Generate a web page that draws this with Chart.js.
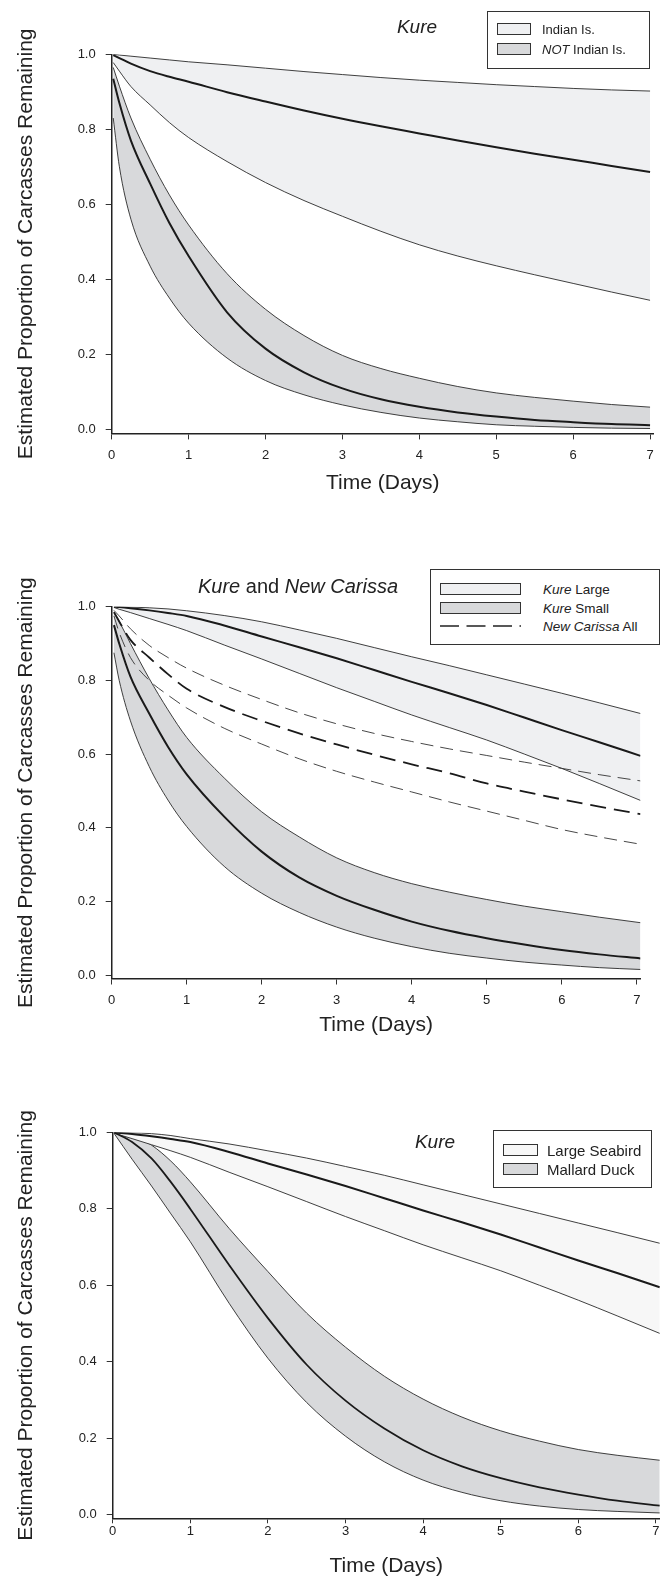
<!DOCTYPE html>
<html lang="en">
<head>
<meta charset="UTF-8">
<title>Estimated Proportion of Carcasses Remaining</title>
<script src="https://cdn.jsdelivr.net/npm/chart.js"></script>
<style>
  body { margin: 0; background: #fff; font-family: "Liberation Sans", Arial, sans-serif; color: #222; }
  #page { position: relative; width: 665px; height: 1577px; overflow: hidden; }
  canvas { position: absolute; left: 0; }
  .ttl { position: absolute; white-space: nowrap; transform: translate(-50%, -50%); font-size: 19px; }
  .lgd { position: absolute; border: 1px solid #333; box-sizing: border-box; background: #fff; }
  .sw { position: absolute; box-sizing: border-box; border: 1px solid #333; }
  .lt { position: absolute; white-space: nowrap; transform: translateY(-50%); }
</style>
</head>
<body>
<div id="page">
  <canvas id="kure1" width="665" height="500" style="top:0px"></canvas>
  <canvas id="kure2" width="665" height="500" style="top:540px"></canvas>
  <canvas id="kure3" width="665" height="497" style="top:1080px"></canvas>
</div>

<script>
// shared ticks
const dayTicks = [0, 1, 2, 3, 4, 5, 6, 7];
const propTicks = [0, 0.2, 0.4, 0.6, 0.8, 1.0];

// ---- panel 1 : Kure, Indian Is. vs NOT Indian Is.
const days1 = [0.02, 0.1, 0.25, 0.5, 0.75, 1, 1.5, 2, 2.5, 3, 3.5, 4, 4.5, 5, 5.5, 6, 6.5, 7];
const indianUpper = [1.0, 0.998, 0.995, 0.99, 0.985, 0.98, 0.972, 0.963, 0.954, 0.946, 0.938, 0.931, 0.925, 0.919, 0.914, 0.909, 0.905, 0.902];
const indianMid   = [0.998, 0.99, 0.975, 0.955, 0.94, 0.927, 0.899, 0.874, 0.85, 0.828, 0.808, 0.789, 0.77, 0.752, 0.735, 0.719, 0.702, 0.686];
const indianLower = [0.978, 0.955, 0.914, 0.865, 0.818, 0.778, 0.714, 0.658, 0.61, 0.568, 0.528, 0.492, 0.462, 0.436, 0.412, 0.389, 0.366, 0.344];
const notUpper = [0.965, 0.915, 0.83, 0.72, 0.625, 0.545, 0.415, 0.32, 0.25, 0.197, 0.162, 0.136, 0.114, 0.097, 0.085, 0.075, 0.066, 0.059];
const notMid   = [0.935, 0.87, 0.77, 0.655, 0.55, 0.462, 0.312, 0.215, 0.152, 0.109, 0.08, 0.06, 0.045, 0.034, 0.025, 0.019, 0.014, 0.011];
const notLower = [0.83, 0.70, 0.56, 0.435, 0.35, 0.283, 0.19, 0.13, 0.092, 0.065, 0.045, 0.03, 0.02, 0.012, 0.008, 0.005, 0.003, 0.002];

// ---- panel 2 : Kure large / small and New Carissa
const days2 = [0.03, 0.1, 0.25, 0.5, 0.75, 1, 1.5, 2, 2.5, 3, 3.5, 4, 4.5, 5, 5.5, 6, 6.5, 7.05];
const largeUpper = [1.0, 1.0, 0.999, 0.997, 0.994, 0.989, 0.976, 0.959, 0.937, 0.914, 0.889, 0.864, 0.84, 0.815, 0.79, 0.765, 0.739, 0.71];
const largeMid   = [1.0, 0.999, 0.996, 0.99, 0.983, 0.975, 0.949, 0.919, 0.89, 0.86, 0.828, 0.796, 0.765, 0.733, 0.699, 0.665, 0.632, 0.595];
const largeLower = [0.998, 0.993, 0.984, 0.968, 0.952, 0.935, 0.896, 0.858, 0.819, 0.78, 0.743, 0.706, 0.672, 0.638, 0.6, 0.561, 0.52, 0.474];
const smallUpper = [0.985, 0.96, 0.9, 0.805, 0.72, 0.645, 0.535, 0.443, 0.375, 0.318, 0.278, 0.248, 0.225, 0.205, 0.187, 0.172, 0.157, 0.142];
const smallMid   = [0.95, 0.9, 0.81, 0.71, 0.62, 0.545, 0.43, 0.335, 0.265, 0.215, 0.177, 0.145, 0.12, 0.10, 0.083, 0.068, 0.056, 0.045];
const smallLower = [0.875, 0.80, 0.69, 0.566, 0.475, 0.403, 0.295, 0.222, 0.17, 0.13, 0.10, 0.077, 0.059, 0.046, 0.035, 0.027, 0.02, 0.015];
const carissaUpper = [0.99, 0.975, 0.94, 0.895, 0.862, 0.833, 0.787, 0.748, 0.712, 0.682, 0.656, 0.634, 0.614, 0.596, 0.578, 0.561, 0.544, 0.527];
const carissaMid   = [0.985, 0.96, 0.91, 0.862, 0.817, 0.777, 0.728, 0.69, 0.656, 0.626, 0.598, 0.572, 0.548, 0.52, 0.498, 0.477, 0.457, 0.437];
const carissaLower = [0.975, 0.93, 0.862, 0.8, 0.76, 0.725, 0.67, 0.627, 0.587, 0.553, 0.524, 0.497, 0.47, 0.445, 0.42, 0.395, 0.375, 0.355];

// ---- panel 3 : Kure, large seabird vs mallard duck
const days3 = [0.02, 0.25, 0.5, 0.75, 1, 1.5, 2, 2.5, 3, 3.5, 4, 4.5, 5, 5.5, 6, 6.5, 7.05];
const seabirdUpper = [1.0, 0.999, 0.997, 0.992, 0.984, 0.97, 0.952, 0.933, 0.911, 0.888, 0.863, 0.838, 0.813, 0.788, 0.763, 0.738, 0.71];
const seabirdMid   = [1.0, 0.996, 0.99, 0.983, 0.975, 0.949, 0.919, 0.89, 0.86, 0.828, 0.796, 0.765, 0.733, 0.699, 0.665, 0.632, 0.595];
const seabirdLower = [0.998, 0.984, 0.968, 0.952, 0.935, 0.896, 0.858, 0.819, 0.78, 0.743, 0.706, 0.672, 0.638, 0.6, 0.561, 0.52, 0.474];
const mallardUpper = [1.0, 0.993, 0.967, 0.925, 0.871, 0.749, 0.636, 0.527, 0.438, 0.362, 0.302, 0.255, 0.219, 0.192, 0.17, 0.155, 0.142];
const mallardMid   = [1.0, 0.975, 0.932, 0.87, 0.80, 0.653, 0.514, 0.392, 0.298, 0.225, 0.168, 0.126, 0.095, 0.071, 0.052, 0.036, 0.023];
const mallardLower = [0.997, 0.93, 0.86, 0.787, 0.714, 0.553, 0.409, 0.293, 0.205, 0.138, 0.09, 0.058, 0.036, 0.022, 0.013, 0.008, 0.004];

const lightFill = '#eff0f2';
const paleFill = '#f7f7f7';
const darkFill = '#d8d9db';
const fontFam = '"Liberation Sans", Arial, sans-serif';

function line(values, opts) {
    return Object.assign({ values: values, width: 0.9, color: '#2a2a2a', order: 2 }, opts || {});
}

function panelChart(canvasId, xs, sets, lay) {
    const datasets = sets.map(s => ({
        data: xs.map((x, i) => ({ x: x, y: s.values[i] })),
        borderColor: s.color,
        borderWidth: s.width,
        borderDash: s.dash || [],
        backgroundColor: s.band || 'rgba(0,0,0,0)',
        fill: s.band ? '-1' : false,
        order: s.order,
        pointRadius: 0,
        cubicInterpolationMode: 'monotone'
    }));

    return new Chart(document.getElementById(canvasId), {
        type: 'line',
        data: { datasets: datasets },
        options: {
            responsive: false,
            animation: false,
            events: [],
            layout: { padding: { top: lay.top, right: lay.right, left: 0, bottom: 0 } },
            plugins: { legend: { display: false }, tooltip: { enabled: false } },
            scales: {
                x: {
                    type: 'linear',
                    min: 0,
                    max: lay.xMax,
                    afterFit: s => { s.height = lay.xHeight; },
                    afterBuildTicks: s => { s.ticks = dayTicks.map(v => ({ value: v })); },
                    grid: { drawOnChartArea: false, tickLength: lay.tickLen, color: '#333' },
                    border: { color: '#222', width: 1.5 },
                    ticks: { padding: lay.xTickPad, maxRotation: 0, autoSkip: false, color: '#222',
                             font: { family: fontFam, size: 13 } },
                    title: { display: true, text: 'Time (Days)', color: '#222',
                             padding: { top: 0, bottom: lay.xTitlePad },
                             font: { family: fontFam, size: 21, lineHeight: 1 } }
                },
                y: {
                    min: lay.yMin,
                    max: 1,
                    afterFit: s => { s.width = lay.yWidth; },
                    afterBuildTicks: s => { s.ticks = propTicks.map(v => ({ value: v })); },
                    grid: { drawOnChartArea: false, tickLength: 6, color: '#333' },
                    border: { color: '#222', width: 1.5 },
                    ticks: { padding: 10, color: '#222', font: { family: fontFam, size: 13 },
                             callback: v => Number(v).toFixed(1) },
                    title: { display: true, text: 'Estimated Proportion of Carcasses Remaining', color: '#222',
                             padding: { top: 15.5, bottom: 0 },
                             font: { family: fontFam, size: 21, lineHeight: 1 } }
                }
            }
        }
    });
}

// html titles and legends (keeps the italics as real text)
const page = document.getElementById('page');

function addTitle(html, cx, cy, size) {
    const d = document.createElement('div');
    d.className = 'ttl';
    d.innerHTML = html;
    d.style.left = cx + 'px';
    d.style.top = cy + 'px';
    d.style.fontSize = size + 'px';
    page.appendChild(d);
}

function addLegend(box, items) {
    const b = document.createElement('div');
    b.className = 'lgd';
    Object.assign(b.style, { left: box.x + 'px', top: box.y + 'px', width: box.w + 'px', height: box.h + 'px' });
    page.appendChild(b);
    items.forEach(it => {
        if (it.dash) {
            const svg = document.createElementNS('http://www.w3.org/2000/svg', 'svg');
            svg.setAttribute('width', box.swW);
            svg.setAttribute('height', 6);
            svg.style.position = 'absolute';
            svg.style.left = box.swX + 'px';
            svg.style.top = (it.cy - 3) + 'px';
            svg.innerHTML = '<line x1="0" y1="3" x2="' + box.swW + '" y2="3" stroke="#222" stroke-width="1.4" stroke-dasharray="19 7.5"/>';
            page.appendChild(svg);
        } else {
            const s = document.createElement('div');
            s.className = 'sw';
            Object.assign(s.style, { left: box.swX + 'px', top: (it.cy - box.swH / 2) + 'px',
                                     width: box.swW + 'px', height: box.swH + 'px', background: it.fill });
            page.appendChild(s);
        }
        const t = document.createElement('div');
        t.className = 'lt';
        t.innerHTML = it.label;
        Object.assign(t.style, { left: box.textX + 'px', top: it.cy + 'px', fontSize: box.font + 'px' });
        page.appendChild(t);
    });
}

panelChart('kure1', days1, [
    line(indianUpper),
    line(indianLower, { band: lightFill }),
    line(notUpper),
    line(notLower, { band: darkFill }),
    line(indianMid, { width: 2, color: '#1a1a1a', order: 0 }),
    line(notMid, { width: 2, color: '#1a1a1a', order: 0 })
], { top: 54.3, right: 11.1, yWidth: 111.7, xHeight: 66.6, yMin: -0.011, xMax: 7.05,
     tickLen: 6, xTickPad: 8, xTitlePad: 6.5 });

panelChart('kure2', days2, [
    line(largeUpper),
    line(largeLower, { band: lightFill }),
    line(smallUpper),
    line(smallLower, { band: darkFill }),
    line(largeMid, { width: 2, color: '#1a1a1a', order: 1 }),
    line(smallMid, { width: 2, color: '#1a1a1a', order: 1 }),
    line(carissaUpper, { width: 0.9, color: '#333', dash: [13, 7], order: 0 }),
    line(carissaMid, { width: 1.8, color: '#1a1a1a', dash: [16, 8], order: 0 }),
    line(carissaLower, { width: 0.9, color: '#333', dash: [13, 7], order: 0 })
], { top: 66.7, right: 24.5, yWidth: 111.7, xHeight: 61.5, yMin: -0.0095, xMax: 7.05,
     tickLen: 6, xTickPad: 8, xTitlePad: 4.5 });

panelChart('kure3', days3, [
    line(seabirdUpper),
    line(seabirdLower, { band: paleFill }),
    line(mallardUpper),
    line(mallardLower, { band: darkFill }),
    line(seabirdMid, { width: 2, color: '#1a1a1a', order: 0 }),
    line(mallardMid, { width: 1.8, color: '#1a1a1a', order: 0 })
], { top: 52.5, right: 5.2, yWidth: 112.7, xHeight: 58.7, yMin: -0.01, xMax: 7.05,
     tickLen: 5, xTickPad: 0, xTitlePad: 0 });

addTitle('<i>Kure</i>', 417, 27, 19);
addLegend({ x: 487, y: 11, w: 163, h: 58, swX: 497, swW: 34, swH: 12, textX: 542, font: 13 }, [
    { label: 'Indian Is.', fill: lightFill, cy: 29.3 },
    { label: '<i>NOT</i> Indian Is.', fill: darkFill, cy: 48.7 }
]);

addTitle('<i>Kure</i> and <i>New Carissa</i>', 298, 586, 20);
addLegend({ x: 430, y: 569, w: 230, h: 76, swX: 440, swW: 81, swH: 12, textX: 543, font: 13.5 }, [
    { label: '<i>Kure</i> Large', fill: lightFill, cy: 588.5 },
    { label: '<i>Kure</i> Small', fill: darkFill, cy: 607.5 },
    { label: '<i>New Carissa</i> All', dash: true, cy: 625.5 }
]);

addTitle('<i>Kure</i>', 435, 1142, 19);
addLegend({ x: 493, y: 1130, w: 159, h: 58, swX: 503, swW: 35, swH: 12, textX: 547, font: 15 }, [
    { label: 'Large Seabird', fill: paleFill, cy: 1150 },
    { label: 'Mallard Duck', fill: darkFill, cy: 1169 }
]);
</script>
</body>
</html>
